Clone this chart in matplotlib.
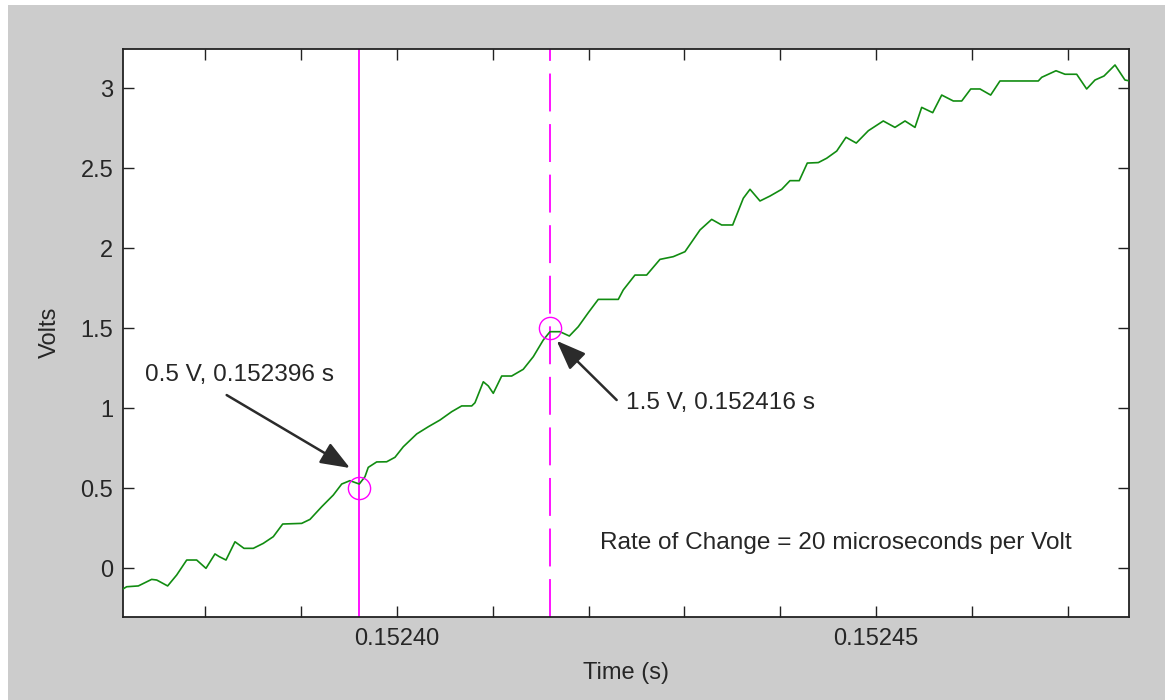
import matplotlib
matplotlib.use("Agg")
import matplotlib.pyplot as plt
from matplotlib.patches import Rectangle
import numpy as np

plt.rcParams['font.family'] = ['Liberation Sans', 'DejaVu Sans']

# ---- data ----
t0 = 0.15240  # reference time (s)
# time offsets from t0 in microseconds
t_us = [-28.60, -28.22, -27.00, -25.61, -25.08, -23.94, -23.00, -21.95, -20.91, -19.94,
        -19.00, -18.55, -17.85, -16.91, -15.97, -15.00, -13.96, -12.91, -11.93, -9.95,
        -9.08, -7.86, -6.65, -5.77, -4.91, -3.94, -3.34, -3.00, -2.12, -1.08,
        -0.21, 0.66, 2.06, 3.27, 4.49, 5.71, 6.75, 7.80, 8.14, 9.01,
        9.53, 10.05, 10.93, 11.97, 13.18, 14.23, 15.27, 15.97, 17.01, 17.99,
        18.92, 19.97, 21.01, 23.10, 23.62, 24.84, 26.06, 27.45, 28.84, 30.06,
        31.63, 32.85, 33.89, 35.04, 36.15, 36.85, 37.89, 38.94, 40.16, 41.02,
        41.99, 42.83, 43.98, 44.85, 45.90, 46.87, 47.94, 49.20, 50.76, 51.98,
        53.03, 54.07, 54.77, 55.92, 56.86, 58.07, 58.95, 59.89, 60.86, 61.97,
        62.94, 66.94, 67.30, 68.79, 69.73, 70.95, 71.99, 72.86, 73.80, 74.95,
        75.99, 76.51]
volts = [-0.131, -0.117, -0.112, -0.071, -0.075, -0.112, -0.044, 0.050, 0.050, -0.002,
         0.088, 0.071, 0.050, 0.164, 0.123, 0.123, 0.154, 0.196, 0.275, 0.279,
         0.304, 0.383, 0.456, 0.525, 0.546, 0.525, 0.571, 0.629, 0.663, 0.664,
         0.692, 0.758, 0.838, 0.883, 0.925, 0.977, 1.013, 1.013, 1.033, 1.164,
         1.138, 1.092, 1.200, 1.200, 1.242, 1.321, 1.425, 1.477, 1.477, 1.450,
         1.508, 1.596, 1.679, 1.679, 1.738, 1.831, 1.831, 1.929, 1.946, 1.977,
         2.113, 2.179, 2.144, 2.144, 2.311, 2.367, 2.294, 2.325, 2.367, 2.421,
         2.421, 2.531, 2.534, 2.561, 2.606, 2.692, 2.656, 2.733, 2.794, 2.754,
         2.794, 2.754, 2.879, 2.846, 2.956, 2.919, 2.919, 2.994, 2.994, 2.956,
         3.044, 3.044, 3.067, 3.108, 3.086, 3.086, 2.994, 3.050, 3.075, 3.144,
         3.050, 3.044]

cross_times = [0.152396, 0.152416]
cross_volts = [0.5, 1.5]
cross_labels = ["0.5 V, 0.152396 s", "1.5 V, 0.152416 s"]
rate_text = "Rate of Change = 20 microseconds per Volt"

xticks = [0.15238, 0.15239, 0.15240, 0.15241, 0.15242, 0.15243, 0.15244, 0.15245, 0.15246, 0.15247]
xticklabels = ["", "", "0.15240", "", "", "", "", "0.15245", "", ""]
yticks = [0, 0.5, 1, 1.5, 2, 2.5, 3]
yticklabels = ["0", "0.5", "1", "1.5", "2", "2.5", "3"]

time_s = t0 + np.array(t_us) * 1e-6

# ---- figure ----
W, H = 1172, 700
fig = plt.figure(figsize=(W / 100, H / 100), dpi=100, facecolor='white')
fig.patches.append(Rectangle((8 / W, 0), (1165 - 8) / W, 695 / H, transform=fig.transFigure,
                             facecolor='#cccccc', edgecolor='none', zorder=-10))

ax = fig.add_axes([123 / W, (H - 616.5) / H, (1129 - 123) / W, (616.5 - 48.5) / H])
ax.set_facecolor('white')

FS = 17
FST = 17.6
txtc = '#262626'
ax.plot(time_s, volts, color='#118c11', lw=1.2, zorder=3)
ax.axvline(cross_times[0], color='#ff00ff', lw=1.3, zorder=2)
ax.axvline(cross_times[1], color='#ff00ff', lw=1.3, dashes=(21, 7), zorder=2)
ax.plot(cross_times, cross_volts, 'o', mfc='none', mec='#ff00ff', ms=16, mew=1.0, zorder=4)

ax.set_xlim(t0 - 28.60e-6, t0 + 76.41e-6)
ax.set_ylim(-0.303, 3.247)
ax.set_xticks(xticks)
ax.set_xticklabels(xticklabels)
ax.set_yticks(yticks)
ax.set_yticklabels(yticklabels)
ax.tick_params(direction='in', length=8, width=1.0, color='#222222', labelcolor=txtc,
               labelsize=FS, top=True, right=True)
ax.tick_params(axis='y', pad=7)
ax.tick_params(axis='x', pad=8)
for s in ax.spines.values():
    s.set_color('#222222')
    s.set_linewidth(1.3)

ax.set_xlabel("Time (s)", fontsize=FS, color=txtc, labelpad=9)
ax.set_ylabel("Volts", fontsize=FS, color=txtc, labelpad=14)

# annotations (positions as time offset in us, volts)
aprops = dict(arrowstyle='-|>,head_length=0.9,head_width=0.35', color='#2b2b2b', lw=1.8,
              shrinkA=0, shrinkB=0, mutation_scale=20)
ax.annotate("", xy=(t0 - 4.91e-6, 0.625), xytext=(t0 - 17.78e-6, 1.081), arrowprops=aprops)
ax.text(t0 - 26.3e-6, 1.206, cross_labels[0], fontsize=FST, color=txtc, va='center', ha='left')
ax.annotate("", xy=(t0 + 16.67e-6, 1.42), xytext=(t0 + 22.93e-6, 1.05), arrowprops=aprops)
ax.text(t0 + 23.90e-6, 1.031, cross_labels[1], fontsize=FST, color=txtc, va='center', ha='left')
ax.text(t0 + 21.19e-6, 0.156, rate_text, fontsize=FST, color=txtc, va='center', ha='left')

fig.savefig("out.png", dpi=100, facecolor=fig.get_facecolor())
